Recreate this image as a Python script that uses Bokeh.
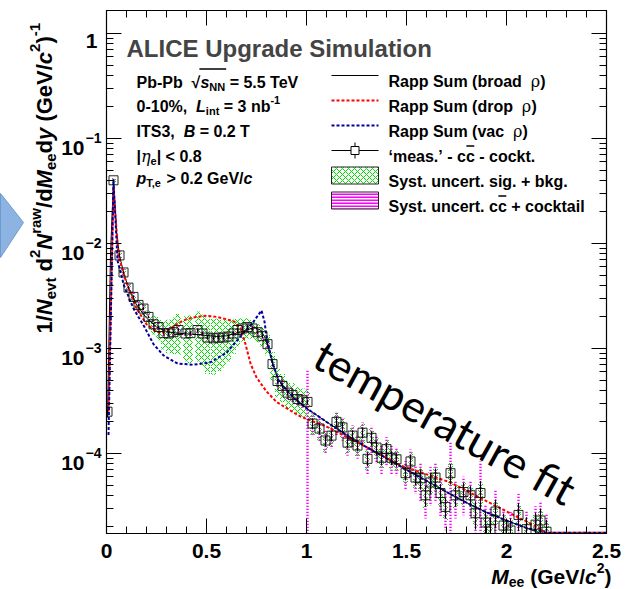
import math
import numpy as np
from bokeh.plotting import figure
from bokeh.models import (Label, LinearAxis, LogAxis, FixedTicker, SingleIntervalTicker,
                          NumeralTickFormatter, Range1d, ColumnDataSource)
from bokeh.embed import file_html
from bokeh.resources import INLINE

# ------------------------------------------------------------------ data
mass = [0.005, 0.035, 0.065, 0.085, 0.11, 0.135, 0.16, 0.185, 0.21, 0.235,
        0.26, 0.285, 0.31, 0.335, 0.36,
        0.395, 0.42, 0.455, 0.48, 0.505, 0.535, 0.56, 0.585, 0.61, 0.635,
        0.655, 0.68, 0.705, 0.73, 0.755, 0.78, 0.805, 0.83, 0.855, 0.88,
        0.905, 0.93, 0.955, 0.98, 1.005,
        1.03, 1.065, 1.095, 1.125, 1.15, 1.18, 1.205, 1.23, 1.255, 1.28,
        1.305, 1.325, 1.35, 1.375, 1.4, 1.425, 1.45, 1.495, 1.52, 1.545,
        1.57, 1.595, 1.62, 1.645, 1.67, 1.695, 1.72, 1.745, 1.785, 1.82,
        1.845, 1.87, 1.895, 1.92, 1.945, 1.985, 2.02, 2.06, 2.1, 2.145,
        2.17, 2.2]
dndm = [2.5e-4, 4.0e-2, 7.7e-3, 5.3e-3, 3.8e-3, 3.1e-3, 2.6e-3, 2.4e-3, 2.0e-3, 1.7e-3,
        1.6e-3, 1.4e-3, 1.39e-3, 1.43e-3, 1.5e-3,
        1.39e-3, 1.40e-3, 1.50e-3, 1.39e-3, 1.27e-3, 1.25e-3, 1.27e-3, 1.27e-3, 1.30e-3, 1.39e-3,
        1.50e-3, 1.55e-3, 1.60e-3, 1.55e-3, 1.43e-3, 1.31e-3, 1.10e-3, 7.1e-4, 4.9e-4, 4.4e-4,
        3.8e-4, 3.6e-4, 3.3e-4, 3.2e-4, 3.1e-4,
        1.93e-4, 1.73e-4, 1.33e-4, 1.48e-4, 2.0e-4, 1.77e-4, 1.27e-4, 1.48e-4, 1.19e-4, 1.58e-4,
        8.9e-5, 1.41e-4, 1.14e-4, 9.1e-5, 1.1e-4, 9.1e-5, 8.8e-5, 6.5e-5, 8.4e-5, 5.9e-5,
        5.8e-5, 4.0e-5, 5.3e-5, 5.9e-5, 4.2e-5, 3.1e-5, 6.5e-5, 4.0e-5, 4.3e-5, 4.0e-5,
        2.7e-5, 4.2e-5, 2.2e-5, 1.9e-5, 2.8e-5, 2.06e-5, 1.85e-5, 2.6e-5, 1.9e-5, 2.1e-5,
        2.3e-5, 1.8e-5]
stat_rel = [0.05, 0.02, 0.03, 0.03, 0.03, 0.03, 0.03, 0.03, 0.03, 0.03,
            0.03, 0.03, 0.03, 0.03, 0.03,
            0.04, 0.04, 0.04, 0.04, 0.04, 0.04, 0.04, 0.04, 0.04, 0.04,
            0.04, 0.04, 0.04, 0.04, 0.04, 0.04, 0.05, 0.05, 0.05, 0.05,
            0.05, 0.05, 0.05, 0.05, 0.05,
            0.12, 0.12, 0.12, 0.12, 0.12, 0.12, 0.12, 0.12, 0.12, 0.12,
            0.15, 0.15, 0.15, 0.15, 0.15, 0.15, 0.15, 0.15, 0.15, 0.15,
            0.22, 0.22, 0.22, 0.22, 0.22, 0.22, 0.22, 0.22, 0.22, 0.22,
            0.3, 0.3, 0.3, 0.3, 0.3, 0.3, 0.3, 0.3, 0.3, 0.3,
            0.3, 0.3]
sys_sb_rel = [0.05, 0.05, 0.06, 0.07, 0.08, 0.1, 0.11, 0.13, 0.15, 0.2,
              0.25, 0.3, 0.35, 0.38, 0.42,
              0.46, 0.48, 0.5, 0.52, 0.55, 0.55, 0.52, 0.48, 0.42, 0.36,
              0.3, 0.25, 0.22, 0.2, 0.2, 0.2, 0.22, 0.3, 0.3, 0.3,
              0.3, 0.3, 0.3, 0.3, 0.3,
              0.22, 0.22, 0.22, 0.22, 0.22, 0.22, 0.22, 0.22, 0.22, 0.22,
              0.22, 0.22, 0.22, 0.22, 0.22, 0.22, 0.22, 0.22, 0.22, 0.22,
              0.25, 0.25, 0.25, 0.25, 0.25, 0.25, 0.25, 0.25, 0.25, 0.25,
              0.25, 0.25, 0.25, 0.25, 0.25, 0.25, 0.25, 0.25, 0.25, 0.25,
              0.25, 0.25]
sys_cc_rel = [0.1, 0.05, 0.12, 0.12, 0.1, 0.1, 0.1, 0.1, 0.1, 0.1,
              0.1, 0.1, 0.1, 0.1, 0.1,
              0.08, 0.08, 0.08, 0.08, 0.08, 0.08, 0.08, 0.08, 0.08, 0.08,
              0.08, 0.08, 0.08, 0.08, 0.08, 0.08, 0.1, 0.12, 0.15, 0.15,
              0.15, 0.15, 0.15, 0.15, 1.0,
              0.25, 0.25, 0.25, 0.25, 0.25, 0.25, 0.25, 0.25, 0.25, 0.25,
              0.3, 0.3, 0.3, 0.3, 0.3, 0.3, 0.3, 0.3, 0.3, 0.3,
              0.4, 0.4, 0.4, 0.4, 0.4, 0.4, 1.0, 0.4, 0.4, 0.4,
              0.5, 1.0, 0.5, 0.6, 0.6, 0.5, 0.5, 0.6, 0.5, 0.5,
              0.5, 0.5]

broad_m = [0.005, 0.02, 0.035, 0.05, 0.065, 0.085, 0.11, 0.15, 0.2, 0.25,
           0.3, 0.35, 0.4, 0.45, 0.5, 0.55, 0.6, 0.65, 0.7, 0.74,
           0.77, 0.79, 0.81, 0.83, 0.86, 0.9, 0.95, 1.0, 1.1, 1.2,
           1.3, 1.4, 1.5, 1.6, 1.7, 1.8, 1.9, 2.0, 2.1, 2.2]
broad_v = [2.2e-4, 8.0e-3, 4.0e-2, 1.3e-2, 7.7e-3, 5.3e-3, 3.8e-3, 2.6e-3, 1.95e-3, 1.6e-3,
           1.45e-3, 1.4e-3, 1.38e-3, 1.36e-3, 1.33e-3, 1.3e-3, 1.32e-3, 1.4e-3, 1.5e-3, 1.58e-3,
           1.5e-3, 1.3e-3, 1.0e-3, 7.3e-4, 5.0e-4, 4.0e-4, 3.2e-4, 2.7e-4, 2.0e-4, 1.5e-4,
           1.15e-4, 9.0e-5, 7.0e-5, 5.5e-5, 4.3e-5, 3.4e-5, 2.75e-5, 2.3e-5, 1.95e-5, 1.65e-5]
drop_m = [0.01, 0.035, 0.06, 0.1, 0.15, 0.2, 0.25, 0.28, 0.32, 0.36,
          0.4, 0.45, 0.5, 0.55, 0.6, 0.64, 0.67, 0.695, 0.72, 0.75,
          0.8, 0.85, 0.9, 0.97, 1.1, 1.3, 1.47, 1.72, 1.97, 2.13,
          2.2, 2.5]
drop_v = [2.5e-4, 3.4e-2, 7.5e-3, 4.2e-3, 2.4e-3, 1.7e-3, 1.45e-3, 1.42e-3, 1.55e-3, 1.75e-3,
          1.9e-3, 2.0e-3, 2.05e-3, 2.0e-3, 1.9e-3, 1.8e-3, 1.55e-3, 1.1e-3, 7.2e-4, 5.3e-4,
          3.9e-4, 3.1e-4, 2.7e-4, 2.25e-4, 1.8e-4, 1.15e-4, 7.7e-5, 5.3e-5, 3.0e-5, 2.1e-5,
          1.76e-5, 1.76e-5]
vac_m = [0.01, 0.035, 0.055, 0.087, 0.135, 0.19, 0.235, 0.285, 0.355, 0.435,
         0.52, 0.6, 0.67, 0.735, 0.775, 0.79, 0.8, 0.83, 0.86, 0.9,
         0.95, 1.0, 1.1, 1.2, 1.3, 1.4, 1.5, 1.6, 1.7, 1.8,
         1.9, 2.0, 2.1, 2.2, 2.25, 2.5]
vac_v = [1.5e-4, 4.0e-2, 6.9e-3, 4.0e-3, 2.4e-3, 1.6e-3, 1.1e-3, 8.6e-4, 7.2e-4, 7.0e-4,
         7.4e-4, 9.1e-4, 1.3e-3, 1.8e-3, 2.3e-3, 1.8e-3, 1.3e-3, 7.3e-4, 5.0e-4, 4.0e-4,
         3.2e-4, 2.7e-4, 2.0e-4, 1.5e-4, 1.15e-4, 9.0e-5, 7.0e-5, 5.5e-5, 4.3e-5, 3.4e-5,
         2.75e-5, 2.3e-5, 1.95e-5, 1.76e-5, 1.76e-5, 1.76e-5]

x_tick_step = 0.5
y_decades = [0, -1, -2, -3, -4]

legend_labels = ["Rapp Sum (broad ", "Rapp Sum (drop ", "Rapp Sum (vac "]

# ------------------------------------------------------------------ layout (canvas pixels)
W, H = 636, 589
FL, FR, FT, FB = 106, 606, 10, 533
X0, X1 = 0.0, 2.5
DEC = 105.0
Y_TOP = 10 ** ((33 - FT) / DEC)
Y_BOT = 10 ** (-(FB - 33) / DEC)
LT, LB = math.log10(Y_TOP), math.log10(Y_BOT)


def dx(px):
    return X0 + (px - FL) / (FR - FL) * (X1 - X0)


def dy(py):
    return 10 ** (LT - (py - FT) / (FB - FT) * (LT - LB))


FONT = "Liberation Sans"
GREEK = "DejaVu Serif"
NB = "\u00a0"

WID = {' ': 278, NB: 278, '!': 333, '%': 889, '(': 333, ')': 333, '+': 584, ',': 278,
       '-': 333, '.': 278, '/': 278, '<': 584, '=': 584, '>': 584, '|': 280, '‘': 278,
       '’': 278, '−': 584, '√': 549,
       'A': 722, 'B': 722, 'C': 722, 'D': 722, 'E': 667, 'G': 778, 'I': 278, 'L': 611,
       'M': 833, 'N': 722, 'P': 667, 'R': 722, 'S': 667, 'T': 611, 'U': 722, 'V': 667,
       'a': 556, 'b': 611, 'c': 556, 'd': 611, 'e': 556, 'f': 333, 'g': 611, 'h': 611,
       'i': 278, 'k': 556, 'l': 278, 'm': 889, 'n': 611, 'o': 611, 'p': 611, 'r': 389,
       's': 556, 't': 333, 'u': 611, 'v': 556, 'w': 778, 'y': 556}
for ch in "0123456789":
    WID[ch] = 556


def tw(s, size):
    return sum(WID.get(ch, 600) for ch in s) * size / 1000.0


p = figure(width=W, height=H, x_range=Range1d(X0, X1), y_range=Range1d(Y_BOT, Y_TOP),
           y_axis_type="log", output_backend="svg", toolbar_location=None,
           min_border_left=FL, min_border_right=W - FR, min_border_top=FT,
           min_border_bottom=H - FB)
p.grid.visible = False
p.outline_line_color = "black"
p.outline_line_width = 1.2
p.background_fill_color = "white"
p.border_fill_color = "white"

# text drawn outside the frame (glyphs on the overlay level)
OUT = {a: dict(x=[], y=[], text=[], angle=[], font=[], size=[], style=[])
       for a in ("left", "right")}


def put(lx, ly, t, ang, font, size, style, align="left"):
    d = OUT[align]
    d["x"].append(dx(lx))
    d["y"].append(dy(ly))
    d["text"].append(t)
    d["angle"].append(ang)
    d["font"].append(font)
    d["size"].append(f"{size}px")
    d["style"].append(style)


def part_style(kind, size):
    s = round(size * 0.68) if kind in ("sub", "sup") else size
    font, style = FONT, "bold"
    if kind == "i":
        style = "bold italic"
    if kind == "g":
        font, style = GREEK, "normal"
    if kind == "gi":
        font, style = GREEK, "italic"
    off = 0.0
    if kind == "sub":
        off = 0.28 * size
    if kind == "sup":
        off = -0.42 * size
    return s, font, style, off


def rich(parts, px, py, size, vertical=False, align="left", outside=False):
    parts = [(t.replace(" ", NB), k) for t, k in parts]
    widths = [tw(t, part_style(k, size)[0]) for t, k in parts]
    total = sum(widths)
    pos = py if vertical else px
    if align == "right":
        pos = pos + total if vertical else pos - total
    spans = []
    for (t, k), w in zip(parts, widths):
        s, font, style, off = part_style(k, size)
        if vertical:
            lx, ly, ang = px + off, pos, math.pi / 2
        else:
            lx, ly, ang = pos, py + off, 0.0
        if outside:
            put(lx, ly, t, ang, font, s, style)
        else:
            p.add_layout(Label(x=dx(lx), y=dy(ly), text=t, angle=ang, text_font=font,
                               text_font_size=f"{s}px", text_font_style=style,
                               text_color="black", text_align="left",
                               text_baseline="alphabetic"))
        end = pos - w if vertical else pos + w
        spans.append((pos, end))
        pos = end
    return spans


def overline(x0, x1, y):
    p.segment(x0=[dx(x0)], y0=[dy(y)], x1=[dx(x1)], y1=[dy(y)], line_color="black",
              line_width=1.3)


# ------------------------------------------------------------------ axes
major_y = [10.0 ** d for d in y_decades]
minor_y = [k * 10.0 ** d for d in range(-5, 1) for k in range(2, 10)
           if Y_BOT <= k * 10.0 ** d <= Y_TOP]

xa = p.xaxis[0]
xa.ticker = SingleIntervalTicker(interval=x_tick_step, num_minor_ticks=5)
xa.formatter = NumeralTickFormatter(format="0.[0]")
ya = p.yaxis[0]
ya.ticker = FixedTicker(ticks=major_y, minor_ticks=minor_y)

top = LinearAxis(ticker=SingleIntervalTicker(interval=x_tick_step, num_minor_ticks=5))
right = LogAxis(ticker=FixedTicker(ticks=major_y, minor_ticks=minor_y))
p.add_layout(top, "above")
p.add_layout(right, "right")

for ax in [ya, top, right]:
    ax.major_label_text_font_size = "1px"
    ax.major_label_text_color = None
    ax.major_label_standoff = 0

for ax in [xa, ya, top, right]:
    ax.major_tick_in = 15
    ax.major_tick_out = 0
    ax.minor_tick_in = 7
    ax.minor_tick_out = 0
    ax.axis_line_color = "black"
    ax.major_tick_line_color = "black"
    ax.minor_tick_line_color = "black"

xa.major_label_text_font = FONT
xa.major_label_text_font_size = "21px"
xa.major_label_text_font_style = "bold"
xa.major_label_text_color = "black"
xa.major_label_standoff = 10

# y tick labels (10^n with superscripts)
for d in y_decades:
    tick_py = 33 - d * DEC
    if d == 0:
        put(97, tick_py + 7.5, "1", 0.0, FONT, 21, "bold", align="right")
    else:
        put(84, tick_py + 9.5, "10", 0.0, FONT, 21, "bold", align="right")
        put(85, tick_py - 1, "−" + str(-d), 0.0, FONT, 14, "bold")

# axis titles
rich([("1/", "n"), ("N", "i"), ("evt", "sub"), (" d", "n"), ("2", "sup"), ("N", "i"),
      ("raw", "sup"), ("/d", "n"), ("M", "i"), ("ee", "sub"), ("d", "n"), ("y", "i"),
      (" (GeV/", "n"), ("c", "i"), ("2", "sup"), (")", "n"), ("-1", "sup")],
     44, 333, 22, vertical=True, outside=True)
rich([("M", "i"), ("ee", "sub"), (" (GeV/", "n"), ("c", "i"), ("2", "sup"), (")", "n")],
     611, 576, 21, align="right", outside=True)

# ------------------------------------------------------------------ data marks
m = np.array(mass)
v = np.array(dndm)
st = np.array(stat_rel)
sg = np.array(sys_sb_rel)
sc = np.array(sys_cc_rel)
floor = Y_BOT * 0.5

p.quad(left=m - 0.0125, right=m + 0.0125, bottom=np.maximum(v * (1 - sg), floor),
       top=v * (1 + sg), fill_color=None, line_color=None, hatch_pattern="x",
       hatch_color="#00dd00", hatch_scale=6, hatch_weight=1)
p.quad(left=m - 0.006, right=m + 0.006, bottom=np.maximum(v * (1 - sc), floor),
       top=v * (1 + sc), fill_color=None, line_color=None, hatch_pattern="horizontal_line",
       hatch_color="#ff00ff", hatch_scale=3, hatch_weight=1.5)

p.line(broad_m, broad_v, line_color="black", line_width=1)
p.line(drop_m, drop_v, line_color="#ff0000", line_width=2, line_dash="3 2")
p.line(vac_m, vac_v, line_color="#000099", line_width=2, line_dash="3 2")

p.segment(x0=m, y0=np.maximum(v * (1 - st), floor), x1=m, y1=v * (1 + st),
          line_color="black", line_width=1)
p.scatter(m, v, marker="square", size=9, fill_color=None, line_color="black",
          line_width=1, line_alpha=0.85)

# ------------------------------------------------------------------ legend (right)
SX0, SX1, SXC = 331, 378, 354.5
row_c = [75, 100, 125, 150, 175, 200]
p.line([dx(SX0), dx(SX1)], [dy(row_c[0])] * 2, line_color="black", line_width=1)
p.line([dx(SX0), dx(SX1)], [dy(row_c[1])] * 2, line_color="#ff0000", line_width=2,
       line_dash="3 2")
p.line([dx(SX0), dx(SX1)], [dy(row_c[2])] * 2, line_color="#000099", line_width=2,
       line_dash="3 2")
p.line([dx(SX0), dx(SX1)], [dy(row_c[3])] * 2, line_color="black", line_width=1)
p.segment(x0=[dx(SXC)], y0=[dy(row_c[3] - 8)], x1=[dx(SXC)], y1=[dy(row_c[3] + 8)],
          line_color="black", line_width=1)
p.scatter([dx(SXC)], [dy(row_c[3])], marker="square", size=8, fill_color="white",
          line_color="black", line_width=1)
p.quad(left=[dx(SX0)], right=[dx(SX1)], top=[dy(row_c[4] - 8.5)], bottom=[dy(row_c[4] + 8.5)],
       fill_color=None, line_color="#222222", line_width=1, hatch_pattern="x",
       hatch_color="#00dd00", hatch_scale=6, hatch_weight=1)
p.quad(left=[dx(SX0)], right=[dx(SX1)], top=[dy(row_c[5] - 8.5)], bottom=[dy(row_c[5] + 8.5)],
       fill_color=None, line_color="#222222", line_width=1, hatch_pattern="horizontal_line",
       hatch_color="#ff00ff", hatch_scale=3, hatch_weight=2)

TX = 388
for i, lab in enumerate(legend_labels):
    rich([(lab + " ", "n"), ("ρ", "g"), (")", "n")], TX, row_c[i] + 6, 16)
sp = rich([("‘meas.’ - c", "n"), ("c", "n"), (" - cockt.", "n")], TX, row_c[3] + 6, 16)
overline(sp[1][0] + 0.5, sp[1][1] - 0.5, row_c[3] + 6 - 10.5)
rich([("Syst. uncert. sig. + bkg.", "n")], TX, row_c[4] + 6, 16)
sp = rich([("Syst. uncert. c", "n"), ("c", "n"), (" + cocktail", "n")], TX, row_c[5] + 6, 16)
overline(sp[1][0] + 0.5, sp[1][1] - 0.5, row_c[5] + 6 - 10.5)

# ------------------------------------------------------------------ left text block
p.add_layout(Label(x=dx(126), y=dy(48), text="ALICE Upgrade Simulation", text_font=FONT,
                   text_font_size="24px", text_font_style="bold", text_align="left",
                   text_baseline="alphabetic"))
LX = 136
sp = rich([("Pb-Pb  ", "n"), ("√", "n"), ("s", "i"), ("NN", "sub"), (" = 5.5 TeV", "n")],
          LX, 82, 16)
overline(sp[1][1] - 1, sp[3][1] + 1, 82 - 13.5)
rich([("0-10%,  ", "n"), ("L", "i"), ("int", "sub"), (" = 3 nb", "n"), ("-1", "sup")],
     LX, 106, 16)
rich([("ITS3,  ", "n"), ("B", "i"), (" = 0.2 T", "n")], LX, 131, 16)
rich([("|", "n"), ("η", "gi"), ("e", "sub"), ("| < 0.8", "n")], LX, 156, 16)
rich([("p", "i"), ("T,e", "sub"), (" > 0.2 GeV/", "n"), ("c", "i")], LX, 178, 16)

# ------------------------------------------------------------------ slide overlays
p.add_layout(Label(x=dx(445), y=dy(421), text="temperature fit", angle=-0.506,
                   text_font="Lato", text_font_size="44px", text_font_style="normal",
                   text_color="black", text_align="center", text_baseline="middle"))
p.patch([dx(0), dx(23), dx(0)], [dy(193), dy(222), dy(257)], fill_color="#8db3e2",
        line_color="#6d9bd1", line_width=1, level="overlay")

for align in ("left", "right"):
    p.text(x="x", y="y", text="text", angle="angle", text_font="font",
           text_font_size="size", text_font_style="style", text_align=align,
           text_baseline="alphabetic", text_color="black",
           source=ColumnDataSource(OUT[align]), level="overlay")

open("out.html", "w").write(file_html(p, INLINE, title="dielectron"))
